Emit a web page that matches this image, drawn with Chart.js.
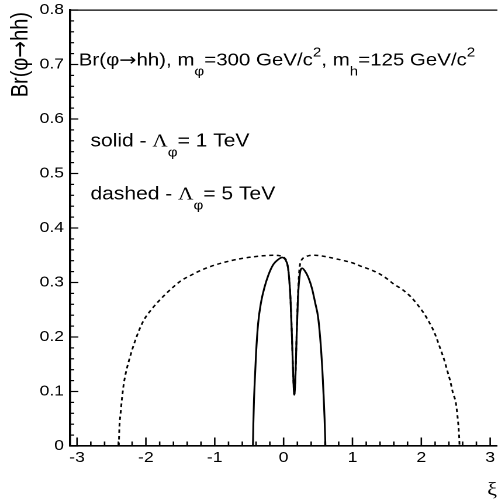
<!DOCTYPE html>
<html>
<head>
<meta charset="utf-8">
<script src="https://cdn.jsdelivr.net/npm/chart.js@4.4.1/dist/chart.umd.min.js"></script>
<style>
  html, body { margin: 0; padding: 0; background: #fff; width: 498px; height: 504px; overflow: hidden; }
  /* ROOT-style canvas: laid out 426px wide, then widened to 498px */
  #frame { position: absolute; left: 0; top: 0; width: 426px; height: 504px;
           transform: scaleX(1.169); transform-origin: 0 0; }
</style>
</head>
<body>
<div id="frame"><canvas id="chart"></canvas></div>
<script>
// Axis tick labels
const xMajorTicks = [-3, -2, -1, 0, 1, 2, 3];
const yMajorTicks = [0, 0.1, 0.2, 0.3, 0.4, 0.5, 0.6, 0.7, 0.8];

// Br(phi -> hh) versus xi, Lambda_phi = 1 TeV (solid)
const solidXi = [-0.445, -0.44, -0.43, -0.42, -0.40, -0.37, -0.33, -0.28, -0.22, -0.15, -0.08, -0.02,
                 0.03, 0.06, 0.08, 0.10, 0.12, 0.135, 0.145, 0.155, 0.165, 0.175, 0.19, 0.21, 0.23,
                 0.25, 0.27, 0.31, 0.36, 0.41, 0.46, 0.50, 0.53, 0.56, 0.58, 0.595, 0.607];
const solidBr = [0, 0.04, 0.085, 0.115, 0.17, 0.225, 0.262, 0.29, 0.314, 0.333, 0.342, 0.346,
                 0.341, 0.33, 0.308, 0.27, 0.205, 0.146, 0.112, 0.094, 0.108, 0.14, 0.207, 0.275, 0.31,
                 0.324, 0.326, 0.321, 0.309, 0.29, 0.262, 0.237, 0.2, 0.146, 0.095, 0.05, 0];

// Br(phi -> hh) versus xi, Lambda_phi = 5 TeV (dashed)
const dashedXi = [-2.393, -2.385, -2.37, -2.345, -2.32, -2.29, -2.225, -2.17, -2.10, -2.03, -1.91, -1.79,
                  -1.60, -1.48, -1.335, -1.19, -1.00, -0.80, -0.61, -0.45, -0.30, -0.15, -0.05, 0.02,
                  0.05, 0.08, 0.10, 0.12, 0.135, 0.145, 0.155, 0.165, 0.175, 0.19, 0.21, 0.23, 0.26,
                  0.30, 0.36, 0.45, 0.59, 0.74, 0.88, 1.00, 1.12, 1.27, 1.39, 1.51, 1.60, 1.725, 1.845,
                  1.94, 2.04, 2.11, 2.18, 2.23, 2.28, 2.33, 2.375, 2.42, 2.46, 2.50, 2.525, 2.543, 2.552, 2.555];
const dashedBr = [0, 0.035, 0.057, 0.09, 0.115, 0.135, 0.166, 0.188, 0.212, 0.231, 0.252, 0.269,
                  0.292, 0.304, 0.314, 0.323, 0.332, 0.339, 0.344, 0.347, 0.349, 0.35, 0.349, 0.344,
                  0.336, 0.309, 0.27, 0.205, 0.146, 0.112, 0.094, 0.108, 0.14, 0.207, 0.283, 0.325, 0.341,
                  0.346, 0.349, 0.35, 0.348, 0.344, 0.34, 0.336, 0.33, 0.323, 0.316, 0.306, 0.297, 0.287, 0.274,
                  0.26, 0.243, 0.228, 0.211, 0.195, 0.177, 0.159, 0.139, 0.119, 0.097, 0.08, 0.055, 0.03, 0.01, 0];

const SANS = '"Liberation Sans", Arial, Helvetica, sans-serif';
const SERIF = '"Liberation Serif", "Times New Roman", serif';
const ARROW = '"DejaVu Sans", sans-serif';

const toPoints = (xs, ys) => xs.map((x, i) => ({ x, y: ys[i] }));
const isMajor = (list, v) => list.some(m => Math.abs(m - v) < 1e-9);

// Draws a run of [text, font, baseline shift] pieces starting at (px, py)
function drawRun(ctx, parts, px, py) {
  for (const [t, f, dy] of parts) {
    ctx.font = f;
    ctx.fillText(t, px, py + (dy || 0));
    px += ctx.measureText(t).width;
  }
  return px;
}
function runWidth(ctx, parts) {
  let w = 0;
  for (const [t, f] of parts) { ctx.font = f; w += ctx.measureText(t).width; }
  return w;
}

// Text drawn inside the frame
const head = `17.5px ${SANS}`, big = `18px ${SANS}`, small = `13px ${SANS}`, greek = `18px ${SERIF}`;
const notes = [
  { xi: -2.975, br: 0.698, parts: [['Br(φ', head], ['→', `17.5px ${ARROW}`], ['hh), m', head], ['φ', small, 10],
                                   ['=300 GeV/c', head], ['2', small, -9], [', m', head], ['h', small, 10],
                                   ['=125 GeV/c', head], ['2', small, -9]] },
  { xi: -2.805, br: 0.55,  parts: [['solid - ', big], ['Λ', greek], ['φ', small, 10], ['= 1 TeV', big]] },
  { xi: -2.805, br: 0.452, parts: [['dashed - ', big], ['Λ', greek], ['φ', small, 10], ['= 5 TeV', big]] }
];
const yTitle = [['Br(φ', `20px ${SANS}`], ['→', `20px ${ARROW}`], ['hh)', `20px ${SANS}`]];

// Inward major and minor (5 subdivisions) tick marks, then the text
const framePlugin = {
  id: 'rootFrame',
  afterDraw(chart) {
    const ctx = chart.ctx, area = chart.chartArea, xs = chart.scales.x, ys = chart.scales.y;
    ctx.save();
    ctx.fillStyle = '#000';
    for (let i = 0; i < xMajorTicks.length; i++) {
      const lo = xMajorTicks[i], hi = xMajorTicks[i + 1];
      const steps = hi === undefined ? 1 : 5;
      for (let k = 0; k < steps; k++) {
        const v = hi === undefined ? lo : lo + (hi - lo) * k / 5;
        const px = xs.getPixelForValue(v);
        const len = k === 0 ? 8.5 : 4.5;
        ctx.fillRect(px - 0.65, area.bottom - len, 1.3, len);
      }
    }
    for (let i = 0; i < yMajorTicks.length; i++) {
      const lo = yMajorTicks[i], hi = yMajorTicks[i + 1];
      const steps = hi === undefined ? 1 : 5;
      for (let k = 0; k < steps; k++) {
        const v = hi === undefined ? lo : lo + (hi - lo) * k / 5;
        const py = ys.getPixelForValue(v);
        ctx.fillRect(area.left, py - 0.6, k === 0 ? 7 : 3.5, 1.2);
      }
    }
    ctx.textAlign = 'left';
    ctx.textBaseline = 'alphabetic';
    for (const n of notes) drawRun(ctx, n.parts, xs.getPixelForValue(n.xi), ys.getPixelForValue(n.br));
    // y-axis title, rotated, ending at the top of the axis
    ctx.textBaseline = 'middle';
    ctx.translate(18.2, area.top + 2);
    ctx.rotate(-Math.PI / 2);
    drawRun(ctx, yTitle, -runWidth(ctx, yTitle), 0);
    ctx.restore();
  }
};

new Chart(document.getElementById('chart'), {
  type: 'line',
  data: {
    datasets: [
      { label: 'Λφ = 5 TeV', data: toPoints(dashedXi, dashedBr), borderColor: '#000', borderWidth: 1.5,
        borderDash: [3.5, 3], pointRadius: 0, cubicInterpolationMode: 'monotone', fill: false },
      { label: 'Λφ = 1 TeV', data: toPoints(solidXi, solidBr), borderColor: '#000', borderWidth: 1.6,
        pointRadius: 0, cubicInterpolationMode: 'monotone', fill: false }
    ]
  },
  options: {
    responsive: true,
    maintainAspectRatio: false,
    animation: false,
    devicePixelRatio: 2,
    layout: { padding: { top: 10, left: 0, right: 0, bottom: 0 } },
    plugins: { legend: { display: false }, tooltip: { enabled: false } },
    scales: {
      x: {
        type: 'linear', position: 'bottom', min: -3.1, max: 3.1,
        afterFit: (s) => { s.height = 58; s.paddingLeft = 0; s.paddingRight = 0; },
        ticks: {
          stepSize: 1, includeBounds: false, autoSkip: false, maxRotation: 0, minRotation: 0,
          padding: 3, color: '#000', font: { family: SANS, size: 15 },
          callback: (v) => isMajor(xMajorTicks, v) ? String(Math.round(v)) : ''
        },
        grid: { display: false, drawTicks: false },
        border: { display: true, color: '#000', width: 1.6 },
        title: { display: true, text: 'ξ', align: 'end', color: '#000',
                 font: { family: SERIF, size: 19 }, padding: { top: 0, bottom: 2 } }
      },
      frameTop: {
        type: 'linear', position: 'top', min: -3.1, max: 3.1,
        afterFit: (s) => { s.height = 0; },
        ticks: { display: false },
        grid: { display: false, drawTicks: false },
        border: { display: true, color: '#000', width: 1.3 }
      },
      y: {
        type: 'linear', position: 'left', min: 0, max: 0.8,
        afterFit: (s) => { s.width = 60; s.paddingTop = 0; s.paddingBottom = 0; },
        ticks: {
          stepSize: 0.1, autoSkip: false, padding: 5.25, color: '#000',
          font: { family: SANS, size: 15 },
          callback: (v) => isMajor(yMajorTicks, v) ? (v === 0 ? '0' : v.toFixed(1)) : ''
        },
        grid: { display: false, drawTicks: false },
        border: { display: true, color: '#000', width: 1.8 }
      }
    }
  },
  plugins: [framePlugin]
});
</script>
</body>
</html>
